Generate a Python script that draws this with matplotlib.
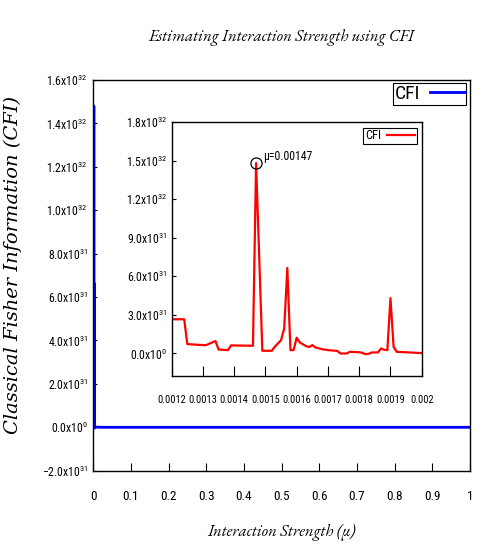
import numpy as np
import matplotlib
matplotlib.use("Agg")
from matplotlib import pyplot as plt
from matplotlib.ticker import FuncFormatter, MultipleLocator

NARROW = 'Roboto Condensed'
plt.rcParams['font.family'] = [NARROW, 'DejaVu Sans']
plt.rcParams['mathtext.fontset'] = 'custom'
plt.rcParams['mathtext.rm'] = NARROW
plt.rcParams['mathtext.it'] = NARROW
plt.rcParams['mathtext.default'] = 'regular'

# CFI values are given in units of 1e31
CFI_UNIT = 1e31

# interaction strength below the zoomed window
mu_low = [0.0, 0.0002, 0.0004, 0.0007, 0.001]
cfi_low = [0.6, 0.2, 0.3, 0.15, 0.4]

# zoomed window (inset), 0.0012 .. 0.002
mu_inset = [0.0012, 0.00124, 0.00125, 0.0013, 0.00131, 0.00134, 0.00135, 0.00138,
            0.00139, 0.00146, 0.00147, 0.00149, 0.00152, 0.00153, 0.00155, 0.00156,
            0.00157, 0.00158, 0.00159, 0.0016, 0.00161, 0.00163, 0.00164, 0.00165,
            0.00166, 0.00168, 0.0017, 0.00173, 0.00174, 0.00176, 0.00177, 0.0018,
            0.00181, 0.00182, 0.00183, 0.00184, 0.00186, 0.00187, 0.00188, 0.00189,
            0.0019, 0.00191, 0.00192, 0.002]
cfi_inset = [2.66, 2.66, 0.73, 0.65, 0.65, 0.97, 0.31, 0.26,
             0.63, 0.6, 14.8, 0.21, 0.21, 0.52, 1.04, 1.96,
             6.65, 0.26, 0.26, 1.23, 0.86, 0.57, 0.5, 0.65,
             0.47, 0.34, 0.26, 0.2, 0.0, 0.0, 0.13, 0.1,
             0.05, -0.05, -0.03, 0.08, 0.08, 0.39, 0.29, 0.26,
             4.3, 0.52, 0.13, 0.03]

# rest of the range, up to 1
mu_tail = [0.003, 0.005, 0.01, 0.02, 0.05, 0.1, 0.2, 0.3, 0.4, 0.5, 0.6, 0.7, 0.8, 0.9, 1.0]
cfi_tail = [0.02, 0.01, 0.01, 0.0, 0.0, 0.0, 0.0, 0.0, 0.0, 0.0, 0.0, 0.0, 0.0, 0.0, 0.0]

peak_mu = 0.00147
peak_cfi = 14.8

main_xticks = [0, 0.1, 0.2, 0.3, 0.4, 0.5, 0.6, 0.7, 0.8, 0.9, 1]
main_xlabels = ['0', '0.1', '0.2', '0.3', '0.4', '0.5', '0.6', '0.7', '0.8', '0.9', '1']
inset_xticks = [0.0012, 0.0013, 0.0014, 0.0015, 0.0016, 0.0017, 0.0018, 0.0019, 0.002]
inset_xlabels = ['0.0012', '0.0013', '0.0014', '0.0015', '0.0016', '0.0017', '0.0018', '0.0019', '0.002']


def sci_fmt(v, pos):
    if abs(v) < 1e-6 * CFI_UNIT:
        return r'$0.0x10^{0}$'
    e = int(np.floor(np.log10(abs(v))))
    m = v / 10.0 ** e
    return r'$%.1fx10^{%d}$' % (m, e)


mu_all = np.array(mu_low + mu_inset + mu_tail)
cfi_all = np.array(cfi_low + cfi_inset + cfi_tail) * CFI_UNIT

fig = plt.figure(figsize=(4.91, 5.45), dpi=100)

# main axes
ax = fig.add_axes([0.190, 0.1363, 0.767, 0.7169])
ax.plot(mu_all, cfi_all, color='#0000ff', lw=2.0, label='CFI')
ax.set_xlim(0, 1)
ax.set_ylim(-2e31, 1.6e32)
ax.yaxis.set_major_locator(MultipleLocator(2e31))
ax.yaxis.set_major_formatter(FuncFormatter(sci_fmt))
ax.set_xticks(main_xticks)
ax.set_xticklabels(main_xlabels)
ax.tick_params(axis='x', direction='in', length=6, width=0.8, pad=14, labelsize=9.5)
ax.tick_params(axis='y', direction='in', length=3, width=0.8, pad=4, labelsize=8.5)
for s in ax.spines.values():
    s.set_linewidth(1.0)
ax.legend(loc='upper right', bbox_to_anchor=(0.991, 0.992), borderaxespad=0,
          markerfirst=False, fancybox=False, edgecolor='black', framealpha=1,
          fontsize=14, handlelength=1.8, handletextpad=0.5, borderpad=0.1)
ax.legend_.get_frame().set_linewidth(0.8)

ax.set_xlabel('Interaction Strength (μ)', family=['EB Garamond', 'Liberation Serif'],
              style='italic', fontsize=12)
ax.xaxis.set_label_coords(0.5, -0.137)
ax.set_ylabel('Classical Fisher Information (CFI)', family='DejaVu Serif', style='italic', fontsize=14)
ax.yaxis.set_label_coords(-0.19, 0.527)

fig.text(281.7 / 491, 1 - 38 / 545, 'Estimating Interaction Strength using CFI',
         family=['EB Garamond', 'Liberation Serif'], style='italic', fontsize=12,
         ha='center', va='center')

# inset
axin = fig.add_axes([0.3497, 0.3101, 0.5092, 0.4661])
axin.plot(np.array(mu_inset), np.array(cfi_inset) * CFI_UNIT, color='#ff0000', lw=1.6, label='CFI')
axin.plot([peak_mu], [peak_cfi * CFI_UNIT], 'o', ms=8, mfc='none', mec='black', mew=0.9)
axin.annotate('μ=%.5f' % peak_mu, xy=(peak_mu, peak_cfi * CFI_UNIT), xytext=(5, 0),
              textcoords='offset points', fontsize=8.5, ha='left', va='bottom')
axin.set_xlim(0.0012, 0.002)
axin.set_ylim(-1.75e31, 1.8e32)
axin.set_yticks(np.arange(0, 7) * 3e31)
axin.yaxis.set_major_formatter(FuncFormatter(sci_fmt))
axin.set_xticks(inset_xticks)
axin.set_xticklabels(inset_xlabels)
axin.tick_params(axis='x', direction='in', length=7, width=0.8, pad=14, labelsize=7.5)
axin.tick_params(axis='y', direction='in', length=3, width=0.8, pad=3, labelsize=8.5)
for s in axin.spines.values():
    s.set_linewidth(1.0)
axin.legend(loc='upper right', bbox_to_anchor=(0.98, 0.978), borderaxespad=0,
            markerfirst=False, fancybox=False, edgecolor='black', framealpha=1,
            fontsize=9, handlelength=2.2, handletextpad=0.5, borderpad=0.15)
axin.legend_.get_frame().set_linewidth(0.8)

fig.savefig('out.png', dpi=100)
